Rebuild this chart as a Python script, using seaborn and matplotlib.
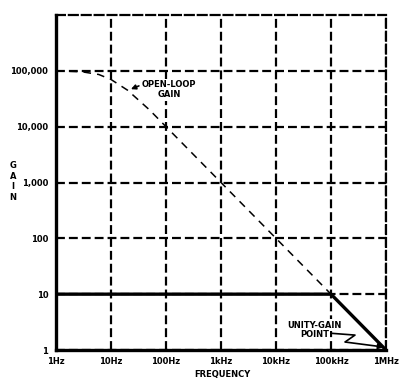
import matplotlib
matplotlib.use("Agg")
import matplotlib.pyplot as plt
import seaborn as sns
import pandas as pd

# ---- data ----
tick_freqs = [1, 10, 100, 1e3, 1e4, 1e5, 1e6]
x_labels = ["1Hz", "10Hz", "100Hz", "1kHz", "10kHz", "100kHz", "1MHz"]
tick_gains = [1, 10, 100, 1e3, 1e4, 1e5]
y_labels = ["1", "10", "100", "1,000", "10,000", "100,000"]

ol_freq = [1, 3, 6, 10, 20, 50, 100, 1e3, 1e4, 1e5]
ol_gain = [100000, 96000, 86000, 70000, 45000, 20000, 10000, 1000, 100, 10]

cl_freq = [1, 1e5, 1e6]
cl_gain = [10, 10, 1]

sns.set_theme(style="white")
plt.rcParams["font.family"] = ["DejaVu Sans"]
plt.rcParams["text.color"] = "black"
plt.rcParams["xtick.color"] = "black"
plt.rcParams["ytick.color"] = "black"

FS = 6
BOX = dict(facecolor="white", edgecolor="none", pad=1.0)

fig = plt.figure(figsize=(4.16, 3.92), dpi=100)
ax = fig.add_axes([56 / 416, 42 / 392, 330 / 416, 335 / 392])

ol = pd.DataFrame({"f": ol_freq, "g": ol_gain})
cl = pd.DataFrame({"f": cl_freq, "g": cl_gain})

ax.set_xscale("log")
ax.set_yscale("log")
ax.set_xlim(1, 1e6)
ax.set_ylim(1, 1e6)

# grid
ax.set_xticks(tick_freqs)
ax.set_yticks(tick_gains + [1e6])
ax.minorticks_off()
ax.grid(True, which="major", color="black", linewidth=1.6, linestyle=(0, (4, 1.8)))
ax.set_axisbelow(True)

sns.lineplot(data=ol, x="f", y="g", ax=ax, color="black", linewidth=1.1,
             linestyle=(0, (5, 4)), zorder=3)
sns.lineplot(data=cl, x="f", y="g", ax=ax, color="black", linewidth=2.4,
             zorder=4)

ax.set_xticks(tick_freqs)
ax.set_xticklabels(x_labels, fontsize=FS, fontweight="bold")
ax.set_yticks(tick_gains)
ax.set_yticklabels(y_labels, fontsize=FS, fontweight="bold")
ax.tick_params(axis="x", length=0, pad=5)
ax.tick_params(axis="y", length=0, pad=5.5)
ax.set_xlabel("")
ax.set_ylabel("")

for s in ["left", "bottom"]:
    ax.spines[s].set_linewidth(2.4)
    ax.spines[s].set_color("black")
for s in ["top", "right"]:
    ax.spines[s].set_linewidth(1.6)
    ax.spines[s].set_color("black")
    ax.spines[s].set_linestyle((0, (4, 1.8)))

fig.text(222 / 416, 1 - 375 / 392, "FREQUENCY", ha="center", va="center",
         fontsize=FS, fontweight="bold")
fig.text(13 / 416, 1 - 181.5 / 392, "G\nA\nI\nN", ha="center", va="center",
         fontsize=FS, fontweight="bold", linespacing=1.25)

# annotations
ax.annotate("OPEN-LOOP\nGAIN", xy=(23, 47000), xytext=(36, 46000),
            ha="left", va="center", fontsize=FS, fontweight="bold",
            multialignment="center", bbox=BOX, zorder=6,
            arrowprops=dict(arrowstyle="-|>", color="black", lw=1.2,
                            mutation_scale=7, shrinkA=1, shrinkB=0,
                            relpos=(0, 0.75)))

ax.text(4.9e4, 2.8, "UNITY-GAIN", ha="center", va="center",
        fontsize=FS, fontweight="bold", bbox=BOX, zorder=6)
ax.text(5.0e4, 1.93, "POINT", ha="center", va="center",
        fontsize=FS, fontweight="bold", bbox=BOX, zorder=6)
ax.plot([9.6e4, 2.73e5, 1.8e5], [2.0, 1.85, 1.39], color="black", lw=1.2,
        solid_capstyle="butt", zorder=7)
ax.annotate("", xy=(9.1e5, 1.13), xytext=(1.8e5, 1.39),
            arrowprops=dict(arrowstyle="-|>", color="black", lw=1.2,
                            mutation_scale=8, shrinkA=0, shrinkB=0),
            zorder=7)

fig.savefig("out.png", dpi=100, facecolor="white")
